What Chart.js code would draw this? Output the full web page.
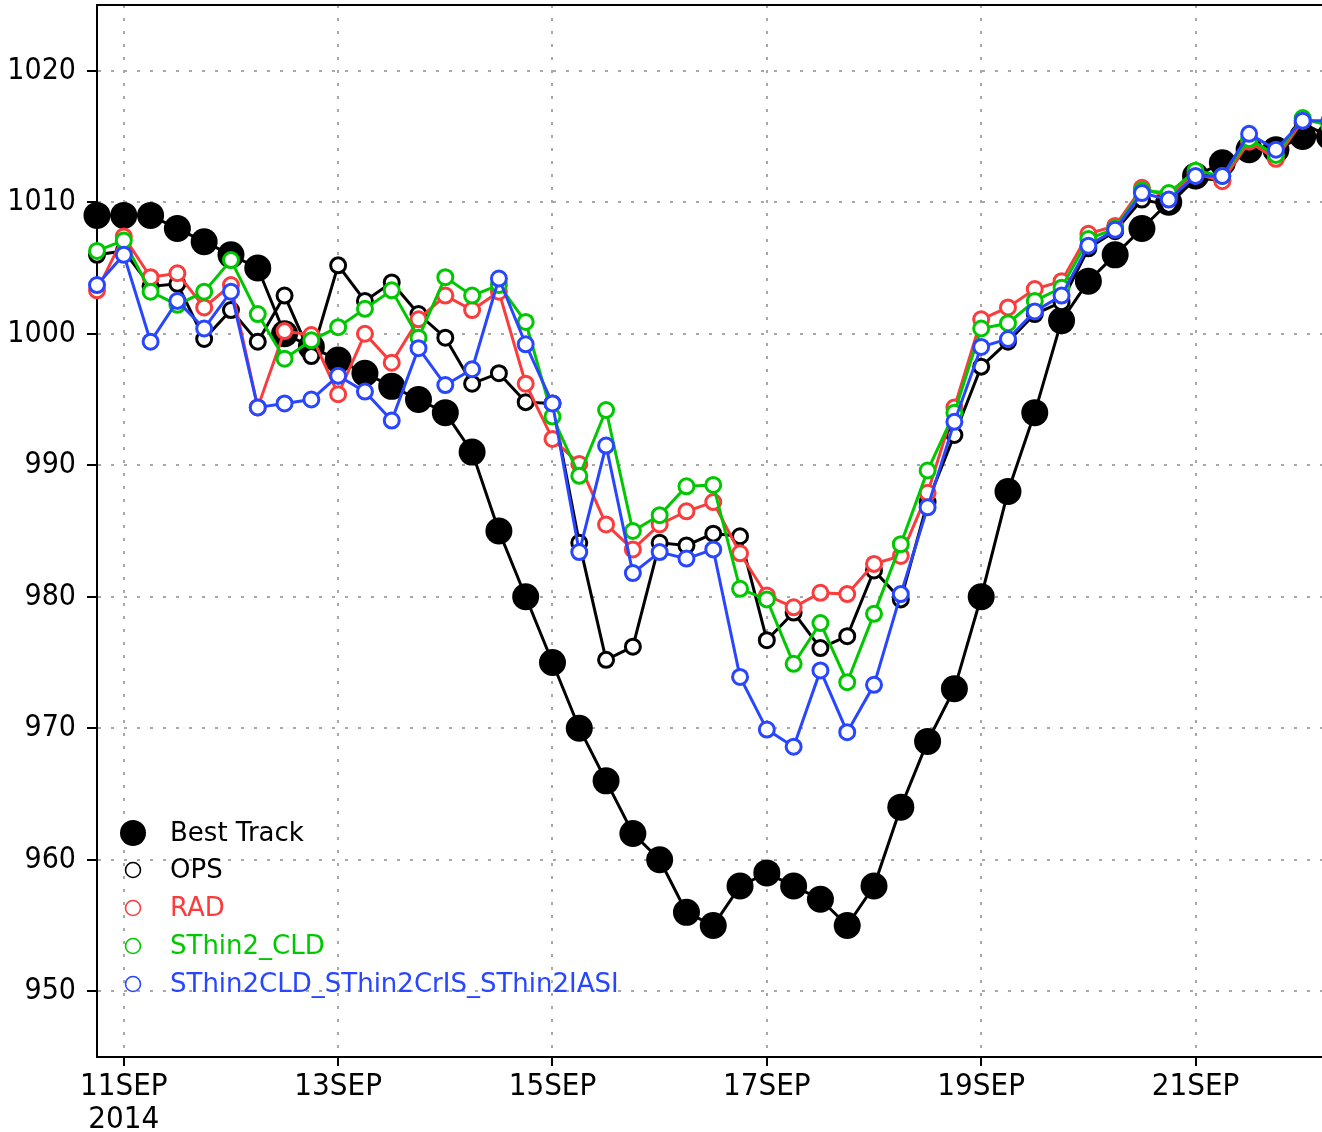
<!DOCTYPE html>
<html>
<head>
<meta charset="utf-8">
<script src="https://cdn.jsdelivr.net/npm/chart.js@4.4.1/dist/chart.umd.min.js"></script>
<style>
  html, body { margin: 0; padding: 0; background: #ffffff; }
  #wrap { width: 1322px; height: 1132px; position: relative; }
</style>
</head>
<body>
<div id="wrap"><canvas id="c" width="1322" height="1132"></canvas></div>
<script>
// ---- data (6-hourly, first point 10SEP2014 18Z; x in days since 11SEP2014 00Z) ----
const startDay = -0.25;
const stepDay = 0.25;

const bestTrack = [1009,1009,1009,1008,1007,1006,1005,1000,999,998,997,996,995,994,991,985,980,975,970,966,962,960,956,955,958,959,958,957,955,958,964,969,973,980,988,994,1001,1004,1006,1008,1010,1012,1013,1014,1014,1015,1015];

const ops = [1006.0,1006.3,1003.6,1003.8,999.6,1001.8,999.4,1002.9,998.3,1005.2,1002.5,1003.9,1001.5,999.7,996.2,997.0,994.8,994.7,984.1,975.2,976.2,984.1,983.9,984.8,984.6,976.7,978.8,976.1,977.0,982.0,979.8,987.2,992.3,997.5,999.4,1001.5,1002.4,1006.5,1007.8,1010.2,1009.8,1011.8,1011.7,1014.5,1013.8,1016.0,1015.0];

const rad = [1003.3,1007.4,1004.3,1004.6,1002.0,1003.7,994.4,1000.2,999.9,995.4,1000.0,997.8,1001.1,1002.9,1001.8,1003.2,996.2,992.0,990.1,985.5,983.6,985.5,986.5,987.2,983.3,980.1,979.2,980.3,980.2,982.5,983.1,987.9,994.4,1001.1,1002.0,1003.4,1004.0,1007.6,1008.2,1011.1,1010.4,1012.2,1011.6,1014.6,1013.3,1016.2,1016.0];

const sthin2Cld = [1006.3,1007.1,1003.2,1002.2,1003.2,1005.6,1001.5,998.1,999.5,1000.5,1001.9,1003.3,999.7,1004.3,1002.9,1003.7,1000.9,993.7,989.2,994.2,985.0,986.2,988.4,988.5,980.6,979.8,974.9,978.0,973.5,978.7,984.0,989.6,994.0,1000.4,1000.8,1002.5,1003.5,1007.2,1008.0,1010.9,1010.7,1012.4,1012.0,1014.8,1013.6,1016.4,1015.8];

const sthin2All = [1003.7,1006.0,999.4,1002.5,1000.4,1003.2,994.4,994.7,995.0,996.8,995.6,993.4,998.9,996.1,997.3,1004.2,999.2,994.7,983.4,991.5,981.8,983.4,982.9,983.6,973.9,969.9,968.6,974.4,969.7,973.3,980.2,986.8,993.3,999.0,999.6,1001.7,1002.9,1006.7,1007.9,1010.7,1010.2,1012.0,1012.0,1015.2,1014.0,1016.2,1016.2];

const seriesNames = ['Best Track', 'OPS', 'RAD', 'SThin2_CLD', 'SThin2CLD_SThin2CrIS_SThin2IASI'];
const seriesColors = ['#000000', '#000000', '#fa3c3c', '#00c800', '#2846ff'];

const xTickValues = [0, 2, 4, 6, 8, 10];
const xTickLabels = [['11SEP', '2014'], '13SEP', '15SEP', '17SEP', '19SEP', '21SEP'];
const yTickValues = [950, 960, 970, 980, 990, 1000, 1010, 1020];

// ---- build chart ----
const toPoints = arr => arr.map((v, i) => ({ x: startDay + i * stepDay, y: v }));
const allSeries = [bestTrack, ops, rad, sthin2Cld, sthin2All];

const datasets = allSeries.map((arr, k) => {
  const isBest = k === 0;
  return {
    label: seriesNames[k],
    data: toPoints(arr),
    borderColor: seriesColors[k],
    borderWidth: 3,
    backgroundColor: seriesColors[k],
    pointBackgroundColor: isBest ? '#000000' : '#ffffff',
    pointBorderColor: seriesColors[k],
    pointBorderWidth: isBest ? 0 : 3,
    pointRadius: isBest ? 13.5 : 7.5,
    pointHoverRadius: isBest ? 13.5 : 7.5,
    tension: 0,
    clip: false,
    order: 4 - k
  };
});

const frameAndLegend = {
  id: 'frameAndLegend',
  beforeDatasetsDraw(chart) {
    const { ctx, chartArea } = chart;
    ctx.save();
    ctx.strokeStyle = '#000';
    ctx.lineWidth = 2;
    ctx.beginPath();
    ctx.moveTo(chartArea.left - 1, chartArea.top);
    ctx.lineTo(chartArea.right + 2, chartArea.top);
    ctx.stroke();
    ctx.restore();
  },
  afterDatasetsDraw(chart) {
    const { ctx, chartArea } = chart;
    ctx.save();
    const mx = chartArea.left + 36;
    const tx = chartArea.left + 73;
    const rows = [833, 870, 908, 946, 984];
    ctx.font = '26px "DejaVu Sans"';
    ctx.textBaseline = 'middle';
    ctx.textAlign = 'left';
    seriesNames.forEach((name, k) => {
      const y = rows[k];
      ctx.beginPath();
      if (k === 0) {
        ctx.fillStyle = '#000';
        ctx.arc(mx, y, 13, 0, Math.PI * 2);
        ctx.fill();
      } else {
        ctx.strokeStyle = seriesColors[k];
        ctx.lineWidth = 1.6;
        ctx.arc(mx, y, 7.5, 0, Math.PI * 2);
        ctx.stroke();
      }
      ctx.fillStyle = seriesColors[k];
      ctx.fillText(name, tx, y + 1);
    });
    ctx.restore();
  }
};

const fam = '"DejaVu Sans Condensed", "DejaVu Sans", sans-serif';
const zeroPad = s => { s.paddingTop = 0; s.paddingBottom = 0; s.paddingLeft = 0; s.paddingRight = 0; };

new Chart(document.getElementById('c'), {
  type: 'line',
  data: { datasets },
  plugins: [frameAndLegend],
  options: {
    responsive: false,
    animation: false,
    events: [],
    layout: { autoPadding: false, padding: { top: 5, right: 0, left: 0, bottom: 0 } },
    plugins: { legend: { display: false }, tooltip: { enabled: false } },
    scales: {
      x: {
        type: 'linear',
        min: -0.25,
        max: 11.18,
        afterBuildTicks: s => { s.ticks = xTickValues.map(v => ({ value: v })); },
        afterFit: s => { s.height = 75; zeroPad(s); },
        grid: {
          color: '#a8a8a8', lineWidth: 2, drawTicks: true, tickLength: 9,
          tickColor: '#000', tickWidth: 2
        },
        border: { display: true, color: '#000', width: 2, dash: [3, 10] },
        ticks: {
          color: '#000', font: { family: fam, size: 31, lineHeight: 1.06 }, padding: 5, maxRotation: 0, autoSkip: false,
          callback: (v, i) => xTickLabels[i]
        }
      },
      y: {
        type: 'linear',
        min: 945,
        max: 1025,
        afterBuildTicks: s => { s.ticks = yTickValues.map(v => ({ value: v })); },
        afterFit: s => { s.width = 97; zeroPad(s); },
        grid: {
          color: '#a8a8a8', lineWidth: 2, drawTicks: true, tickLength: 10,
          tickColor: '#000', tickWidth: 2
        },
        border: { display: true, color: '#000', width: 2, dash: [3, 10] },
        ticks: {
          color: '#000', font: { family: fam, size: 30 }, padding: 11, autoSkip: false,
          callback: v => String(v)
        }
      }
    }
  }
});
</script>
</body>
</html>
